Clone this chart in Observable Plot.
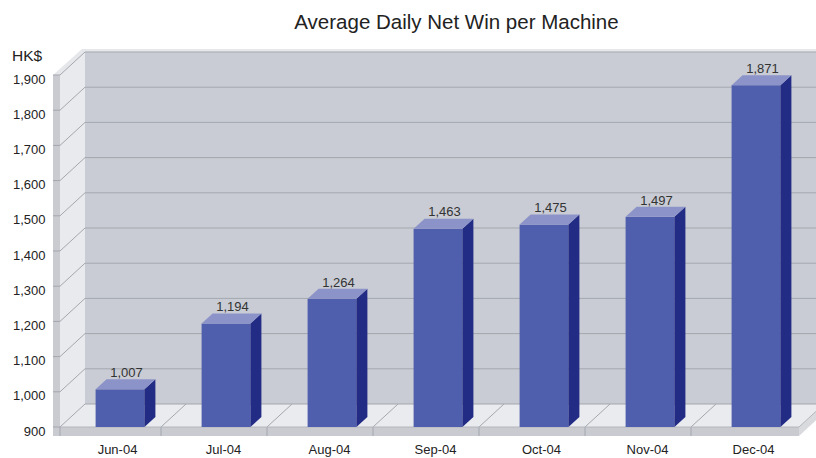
<!DOCTYPE html>
<html><head><meta charset="utf-8">
<script src="https://cdn.jsdelivr.net/npm/d3@7"></script>
<script src="https://cdn.jsdelivr.net/npm/@observablehq/plot@0.6"></script>
<style>
body{margin:0;background:#fff;}
#wrap{position:relative;width:816px;height:458px;overflow:hidden;font-family:"Liberation Sans",Arial,sans-serif;color:#222;}
#title{position:absolute;left:56.5px;width:800px;top:12px;text-align:center;font-size:20.5px;line-height:20.5px;white-space:nowrap;}
#unit{position:absolute;left:12px;top:48px;font-size:15.5px;line-height:15.5px;}
#chart{position:absolute;left:0;top:0;}
</style></head>
<body><div id="wrap"><div id="chart"></div><div id="title">Average Daily Net Win per Machine</div><div id="unit">HK$</div></div>
<script>
const months = ["Jun-04","Jul-04","Aug-04","Sep-04","Oct-04","Nov-04","Dec-04"];
const netWin = [1007,1194,1264,1463,1475,1497,1871];
const yTicks = [900,1000,1100,1200,1300,1400,1500,1600,1700,1800,1900];

const data = months.map((m,i)=>({month:m, value:netWin[i]}));
const base = yTicks[0];
const fmt = d3.format(",");

const C = {back:"#c9ccd4", cap:"#e6e7eb", side:"#e9eaee", strip:"#c9cbd1", floor:"#eaebef", slabSide:"#d8dade",
  grid:"#a4a7ae", edge:"#b3b6bc", barFront:"#4f5ead", barSide:"#222c85", barTop:"#8b93c8"};
const D = {dx:25, dy:-23};   // depth of walls
const B = {dx:11, dy:-10};   // depth of bars
const inset = 28.6;

function poly(g, pts, fill){ g.append("polygon").attr("points", pts.map(p=>p.join(",")).join(" ")).attr("fill", fill); }
function seg(g, x1,y1,x2,y2, stroke){ g.append("line").attr("x1",x1).attr("y1",y1).attr("x2",x2).attr("y2",y2).attr("stroke",stroke).attr("stroke-width",1); }

function scene(index, scales){
  const sx = scales.x, sy = scales.y;
  const [X0, X1] = sx.range();
  const step = sx.step();
  const yF = v => sy(v), yB = v => sy(v) + D.dy;
  const vMin = yTicks[0], vMax = yTicks[yTicks.length-1];
  const wf = X0 - 6, wb = wf + D.dx;
  const ff = X1 - 11, fb = ff + D.dx;
  const right = fb + 30;
  const g = d3.create("svg:g");
  poly(g, [[wb,yB(vMax)],[right,yB(vMax)],[right,yB(vMin)],[wb,yB(vMin)]], C.back);
  poly(g, [[wf-7,yF(vMax)],[wb-3,yB(vMax)-3],[right,yB(vMax)-3],[right,yB(vMax)],[wb,yB(vMax)],[wf,yF(vMax)]], C.cap);
  poly(g, [[wf,yF(vMax)],[wb,yB(vMax)],[wb,yB(vMin)],[wf,yF(vMin)]], C.side);
  poly(g, [[wf-7,yF(vMax)],[wf,yF(vMax)],[wf,yF(vMin)+9],[wf-7,yF(vMin)+9]], C.strip);
  poly(g, [[wf,yF(vMin)],[wb,yB(vMin)],[fb,yB(vMin)],[ff,yF(vMin)]], C.floor);
  poly(g, [[wf-7,yF(vMin)],[ff,yF(vMin)],[ff,yF(vMin)+9],[wf-7,yF(vMin)+9]], C.strip);
  poly(g, [[ff,yF(vMin)],[fb,yB(vMin)],[fb,yB(vMin)+9],[ff,yF(vMin)+9]], C.slabSide);
  for (const v of yTicks){
    seg(g, wb, yB(v), right, yB(v), C.grid);
    seg(g, wf, yF(v), wb, yB(v), C.grid);
    seg(g, wf-7, yF(v), wf, yF(v), C.grid);
  }
  for (let k = 1; k < months.length; k++){
    const xf = X0 + k*step - 11;
    seg(g, xf, yF(vMin), xf + D.dx, yB(vMin), C.grid);
    seg(g, xf, yF(vMin), xf, yF(vMin)+9, C.grid);
  }
  seg(g, wf, yF(vMin), ff, yF(vMin), C.edge);
  seg(g, ff, yF(vMin), fb, yB(vMin), C.edge);
  seg(g, wf, yF(vMin), wf, yF(vMin)+9, C.grid);
  return g.node();
}

function barFaces(index, scales){
  const sx = scales.x, sy = scales.y;
  const bw = sx.bandwidth();
  const g = d3.create("svg:g");
  for (const d of data){
    const x1 = sx(d.month) + inset, x2 = sx(d.month) + bw - inset;
    const yt = sy(d.value), yb = sy(base);
    poly(g, [[x2,yt],[x2+B.dx,yt+B.dy],[x2+B.dx,yb+B.dy],[x2,yb]], C.barSide);
    poly(g, [[x1,yt],[x1+B.dx,yt+B.dy],[x2+B.dx,yt+B.dy],[x2,yt]], C.barTop);
  }
  return g.node();
}

const chart = Plot.plot({
  width: 816, height: 458,
  marginTop: 75, marginBottom: 31, marginLeft: 66, marginRight: 6,
  style: {fontFamily: '"Liberation Sans", Arial, sans-serif', fontSize: "13px", color: "#222", background: "transparent"},
  x: {domain: months, padding: 0, label: null},
  y: {domain: [yTicks[0], yTicks[yTicks.length-1]], label: null},
  marks: [
    scene,
    Plot.barY(data, {x: "month", y1: () => base, y2: "value", fill: C.barFront, insetLeft: inset, insetRight: inset}),
    barFaces,
    Plot.text(data, {x: "month", y: "value", text: d => fmt(d.value), dx: 6, dy: -17, fontSize: 13, fill: "#333"}),
    Plot.axisY(yTicks, {tickSize: 0, tickPadding: 21, dy: 4, tickFormat: d => fmt(d), fontSize: 13}),
    Plot.axisX({tickSize: 0, dy: 8, dx: -3, fontSize: 13})
  ]
});
document.getElementById("chart").appendChild(chart);
</script>
</body></html>
